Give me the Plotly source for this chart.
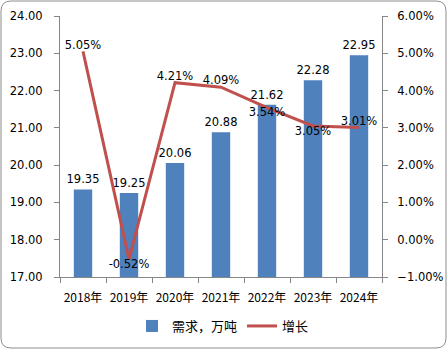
import plotly.graph_objects as go

years = ["2018年", "2019年", "2020年", "2021年", "2022年", "2023年", "2024年"]
demand = [19.35, 19.25, 20.06, 20.88, 21.62, 22.28, 22.95]
growth = [5.05, -0.52, 4.21, 4.09, 3.54, 3.05, 3.01]
growth_pos = ["top center", "bottom center", "top center", "top center",
              "bottom center", "bottom center", "top center"]

W, H = 448, 350
L, R, T, B = 60, 66, 16, 73
pw, ph = W - L - R, H - T - B

FONT = "DejaVu Sans, Noto Sans CJK SC, sans-serif"
CJK = "Noto Sans CJK SC, DejaVu Sans, sans-serif"
AX = "#868686"
FS = 11.5

fig = go.Figure()
fig.add_trace(go.Bar(
    x=years, y=demand, name="需求，万吨",
    marker=dict(color="#4F81BD", line=dict(width=0)),
    text=[f"{v:.2f}" for v in demand], textposition="outside",
    constraintext="none",
    textfont=dict(family=FONT, size=FS, color="black"),
    width=0.4,
))
fig.add_trace(go.Scatter(
    x=years, y=growth, name="增长", yaxis="y2", mode="lines+text",
    line=dict(color="#C0504D", width=3),
    text=[f"{v:.2f}%" for v in growth], textposition=growth_pos,
    textfont=dict(family=FONT, size=FS, color="black"),
))

def px2paper(x, y):
    return (x - L) / pw, (H - B - y) / ph

def rounded_rect(x0, y0, x1, y1, r):
    def P(x, y):
        a, b = px2paper(x, y)
        return f"{a:.5f},{b:.5f}"
    return (f"M {P(x0 + r, y0)} L {P(x1 - r, y0)} Q {P(x1, y0)} {P(x1, y0 + r)} "
            f"L {P(x1, y1 - r)} Q {P(x1, y1)} {P(x1 - r, y1)} "
            f"L {P(x0 + r, y1)} Q {P(x0, y1)} {P(x0, y1 - r)} "
            f"L {P(x0, y0 + r)} Q {P(x0, y0)} {P(x0 + r, y0)} Z")

fig.update_layout(
    width=W, height=H,
    margin=dict(l=L, r=R, t=T, b=B, autoexpand=False),
    paper_bgcolor="white", plot_bgcolor="white",
    font=dict(family=FONT, size=FS, color="black"),
    bargap=0.6,
    showlegend=True,
    legend=dict(orientation="h", x=(132 - L) / pw, xanchor="left",
                y=(H - B - 311) / ph, yanchor="top",
                font=dict(family=CJK, size=13, color="black"),
                itemwidth=30, tracegroupgap=0),
    xaxis=dict(type="category", showline=True, linecolor=AX, linewidth=1,
               ticks="outside", tickson="boundaries", ticklen=5, tickcolor=AX,
               tickangle=0, ticklabelstandoff=10, automargin=False,
               tickfont=dict(family=CJK, size=12, color="black"),
               showgrid=False, zeroline=False),
    yaxis=dict(range=[17, 24], dtick=1, tickformat=".2f", showline=True,
               linecolor=AX, linewidth=1, ticks="outside", ticklen=5, tickcolor=AX,
               ticklabelstandoff=9, automargin=False,
               showgrid=False, zeroline=False,
               tickfont=dict(family=FONT, size=FS, color="black")),
    yaxis2=dict(range=[-1, 6], dtick=1, tickformat=".2f", ticksuffix="%",
                overlaying="y", side="right", showline=True, linecolor=AX,
                linewidth=1, ticks="outside", ticklen=5, tickcolor=AX,
                ticklabelstandoff=7, automargin=False,
                showgrid=False, zeroline=False,
                tickfont=dict(family=FONT, size=FS, color="black")),
    shapes=[dict(type="path", xref="paper", yref="paper",
                 path=rounded_rect(1, 1, 446, 348, 10),
                 line=dict(color="#8C8C8C", width=1), layer="below")],
)

fig.write_html("out.html")
